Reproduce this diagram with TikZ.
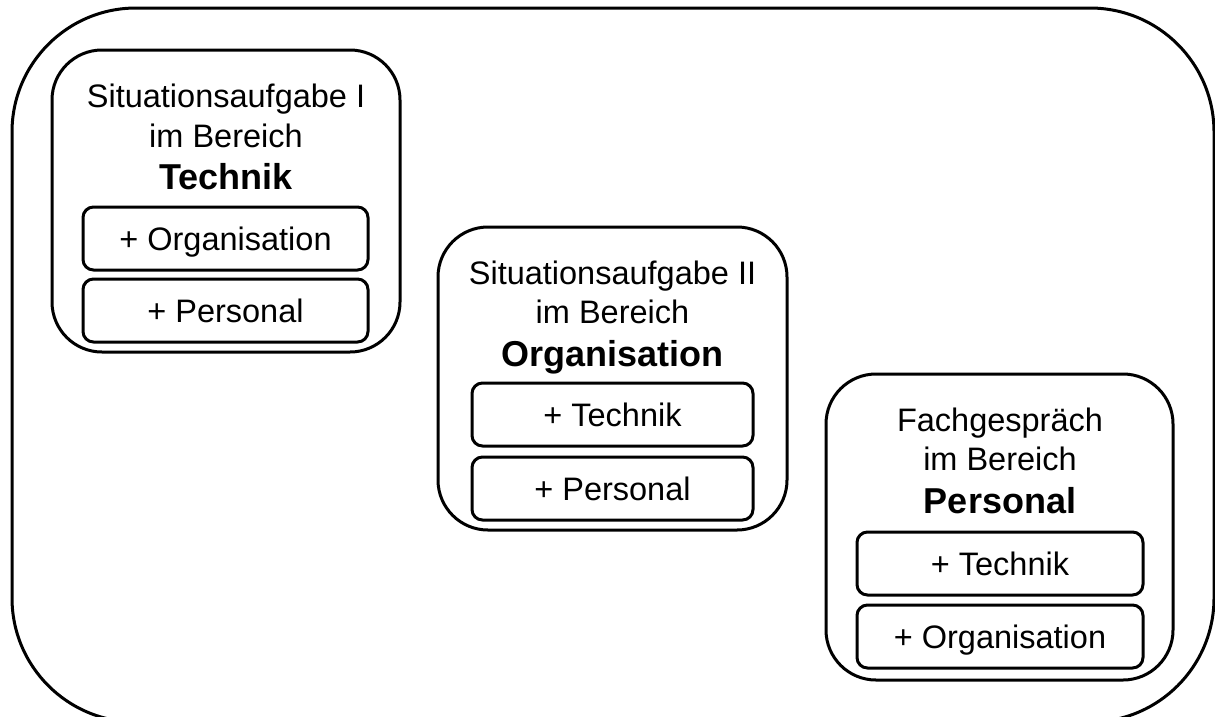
\documentclass[tikz,border=0pt]{standalone}
\usepackage{fontspec}
\setmainfont{Liberation Sans}
\begin{document}
\begin{tikzpicture}[x=1pt,y=-1pt,
  outerbox/.style={draw, line width=3pt, rounded corners=124pt, inner sep=0pt},
  mainbox/.style={draw, line width=3pt, rounded corners=50pt, inner sep=0pt},
  subbox/.style={draw, line width=3pt, rounded corners=10.5pt, inner sep=0pt, minimum height=63pt, text height=23.5pt, text depth=0pt, font=\fontsize{32.5}{39}\selectfont},
  ttl/.style={anchor=base, inner sep=0pt, font=\fontsize{32.5}{39}\selectfont},
  ttlb/.style={anchor=base, inner sep=0pt, font=\fontsize{36}{43}\selectfont\bfseries}]
\useasboundingbox (0,0) rectangle (1215,716);
\node[outerbox, minimum width=1202pt, minimum height=714pt] (outer) at (613,365) {};

% Box 1
\node[mainbox, minimum width=348pt, minimum height=302pt] (b1) at (226,201) {};
\node[ttl] (b1l1) at (226,107) {Situationsaufgabe I};
\node[ttl] (b1l2) at (226,147) {im Bereich};
\node[ttlb] (b1l3) at (226,189) {Technik};
\node[subbox, minimum width=285pt] (b1a) at (225.5,238.5) {+ Organisation};
\node[subbox, minimum width=285pt] (b1b) at (225.5,310.5) {+ Personal};

% Box 2
\node[mainbox, minimum width=349pt, minimum height=303pt] (b2) at (612.5,378.5) {};
\node[ttl] (b2l1) at (612.5,284) {Situationsaufgabe II};
\node[ttl] (b2l2) at (612.5,323) {im Bereich};
\node[ttlb] (b2l3) at (612.5,366) {Organisation};
\node[subbox, minimum width=281pt] (b2a) at (612.5,414.5) {+ Technik};
\node[subbox, minimum width=281pt] (b2b) at (612.5,488.5) {+ Personal};

% Box 3
\node[mainbox, minimum width=347pt, minimum height=306pt] (b3) at (999.5,527) {};
\node[ttl] (b3l1) at (1000,431) {Fachgespräch};
\node[ttl] (b3l2) at (1000,470) {im Bereich};
\node[ttlb] (b3l3) at (1000,513) {Personal};
\node[subbox, minimum width=286pt] (b3a) at (1000,563.5) {+ Technik};
\node[subbox, minimum width=286pt] (b3b) at (1000,636.5) {+ Organisation};
\end{tikzpicture}
\end{document}
